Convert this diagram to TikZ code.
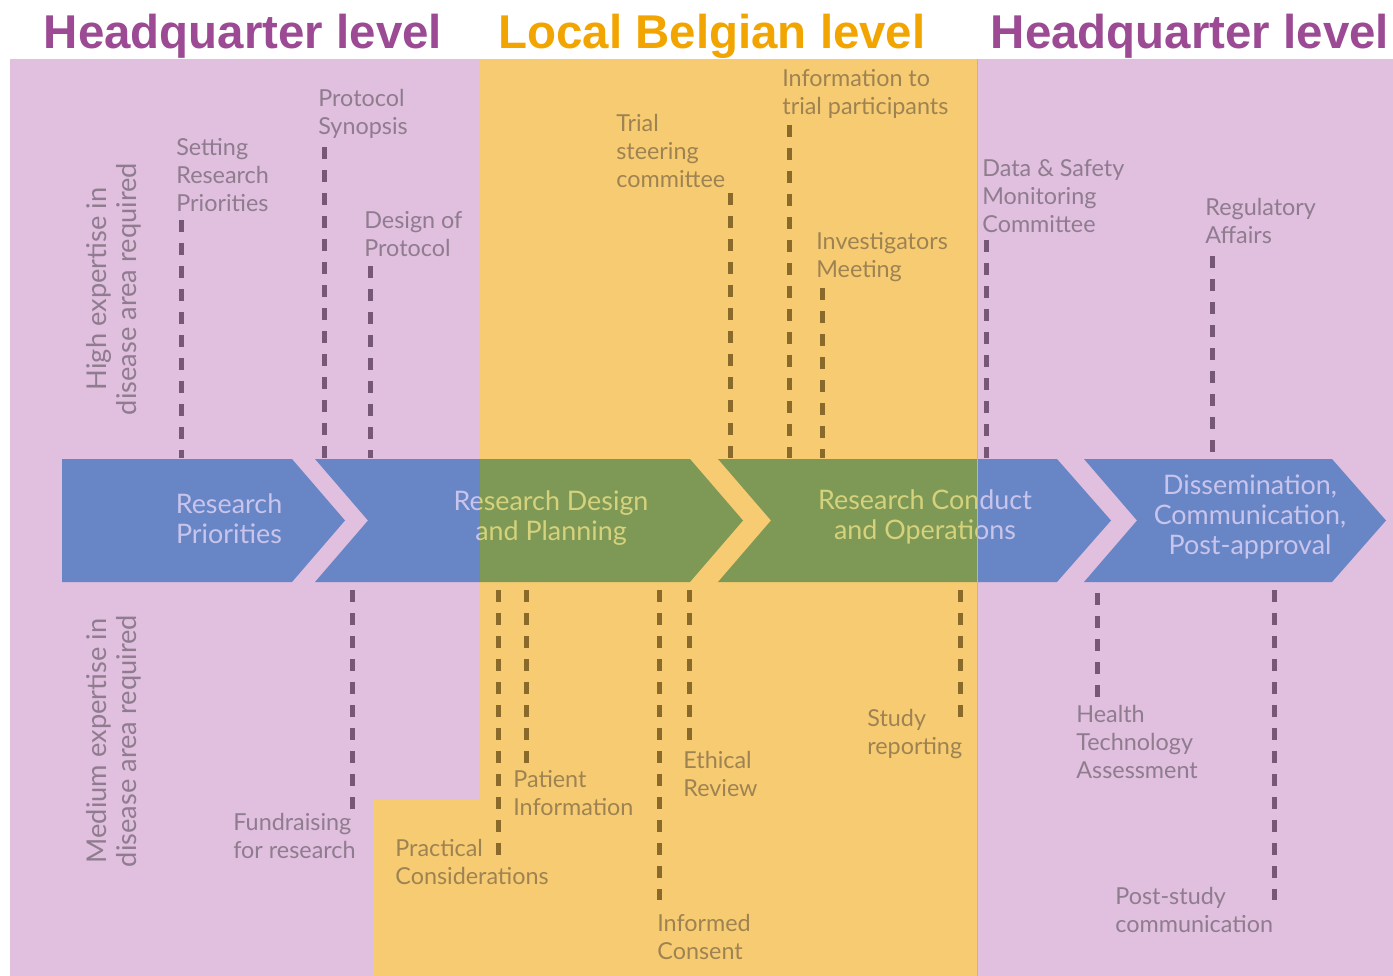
\documentclass[tikz,border=0pt]{standalone}
\usepackage{fontspec}
\setmainfont{Lato}
\newfontfamily\titlefont{Liberation Sans}
\definecolor{titlepurple}{HTML}{9B4A93}
\definecolor{titleorange}{HTML}{F2A500}
\definecolor{edgeorange}{HTML}{E8B050}
\tikzset{
  lbl/.style={font=\fontsize{13.3}{15.9}\selectfont, align=left, inner sep=0pt, anchor=north west, text=lblcol},
  arrtext/.style={font=\fontsize{15.3}{17}\selectfont, align=center, inner sep=0pt, text=arrtxtcol},
  sidetext/.style={font=\fontsize{15.5}{17}\selectfont, align=center, inner sep=0pt, text=lblcol, rotate=90},
  dl/.style={draw=dashcol, line width=0.1cm, dash pattern=on 0.24cm off 0.22cm},
  chev/.style={fill=arrowcol},
  ttl/.style={font=\titlefont\bfseries\fontsize{27}{30}\selectfont, inner sep=0pt, anchor=base}
}
\newcommand{\drawdiagram}{%
  \fill[bgcol] (10,59) rectangle (1393,976);
  % chevrons
  \fill[chev] (62,459) -- (292,459) -- (345,520.5) -- (292,582) -- (62,582) -- cycle;
  \fill[chev] (315,459) -- (690,459) -- (743,520.5) -- (690,582) -- (315,582) -- (368,520.5) -- cycle;
  \fill[chev] (718,459) -- (1057,459) -- (1111,520.5) -- (1057,582) -- (718,582) -- (771,520.5) -- cycle;
  \fill[chev] (1084,459) -- (1332,459) -- (1386,520.5) -- (1332,582) -- (1084,582) -- (1137,520.5) -- cycle;
  \node[arrtext] (a1) at (229,519) {Research\\Priorities};
  \node[arrtext] (a2) at (551,518) {Research Design\\and Planning};
  \node[arrtext] (a3) at (925,517) {Research Conduct\\and Operations};
  \node[arrtext] (a4) at (1250,517) {Dissemination,\\Communication,\\Post-approval};
  % side texts
  \node[sidetext] (hi) at (114,289) {High expertise in\\disease area required};
  \node[sidetext] (me) at (114,741) {Medium expertise in\\disease area required};
  % upper labels
  \node[lbl] (setting) at (176,138) {Setting\\Research\\Priorities};
  \node[lbl] (synopsis) at (318,89) {Protocol\\Synopsis};
  \node[lbl] (design) at (364,211) {Design of\\Protocol};
  \node[lbl] (trial) at (616,114) {Trial\\steering\\committee};
  \node[lbl] (info) at (782,69) {Information to\\trial participants};
  \node[lbl] (invest) at (816,232) {Investigators\\Meeting};
  \node[lbl] (dsmc) at (982,159) {Data \& Safety\\Monitoring\\Committee};
  \node[lbl] (reg) at (1205,198) {Regulatory\\Affairs};
  % lower labels
  \node[lbl] (fund) at (233,813) {Fundraising\\for research};
  \node[lbl] (practical) at (395,839) {Practical\\Considerations};
  \node[lbl] (patient) at (513,770) {Patient\\Information};
  \node[lbl] (informed) at (657,914) {Informed\\Consent};
  \node[lbl] (ethical) at (683,751) {Ethical\\Review};
  \node[lbl] (study) at (867,709) {Study\\reporting};
  \node[lbl] (hta) at (1076,705) {Health\\Technology\\Assessment};
  \node[lbl] (post) at (1115,887) {Post-study\\communication};
  % connector end points
  \coordinate (s1) at (181,220);  \coordinate (e1) at (181,458);
  \coordinate (s2) at (324,147);  \coordinate (e2) at (324,458);
  \coordinate (s3) at (370,266);  \coordinate (e3) at (370,458);
  \coordinate (s4) at (730,193);  \coordinate (e4) at (730,458);
  \coordinate (s5) at (789,125);  \coordinate (e5) at (789,458);
  \coordinate (s6) at (822,288);  \coordinate (e6) at (822,458);
  \coordinate (s7) at (986,240);  \coordinate (e7) at (986,458);
  \coordinate (s8) at (1212,256); \coordinate (e8) at (1212,458);
  \coordinate (s9) at (352,590);  \coordinate (e9) at (352,815);
  \coordinate (s10) at (498,590); \coordinate (e10) at (498,856);
  \coordinate (s11) at (526,590); \coordinate (e11) at (526,765);
  \coordinate (s12) at (659,590); \coordinate (e12) at (659,900);
  \coordinate (s13) at (689,590); \coordinate (e13) at (689,740);
  \coordinate (s14) at (960,590); \coordinate (e14) at (960,718);
  \coordinate (s15) at (1097,593); \coordinate (e15) at (1097,697);
  \coordinate (s16) at (1274,590); \coordinate (e16) at (1274,900);
  \foreach \i in {1,...,16} {\draw[dl] (s\i) -- (e\i);}
}
\begin{document}
\begin{tikzpicture}[x=0.02cm,y=-0.02cm]
  \useasboundingbox (0,0) rectangle (1393,976);
  \fill[white] (0,0) rectangle (1393,976);
  \node[ttl, text=titlepurple] (t1) at (243,49) {Headquarter level};
  \node[ttl, text=titleorange] (t2) at (712,49) {Local Belgian level};
  \node[ttl, text=titlepurple] (t3) at (1190,49) {Headquarter level};
  \begin{scope}
    \definecolor{bgcol}{HTML}{E0BFDF}
    \definecolor{arrowcol}{HTML}{6886C6}
    \definecolor{arrtxtcol}{HTML}{C9C4EC}
    \definecolor{lblcol}{HTML}{8F7C8E}
    \definecolor{dashcol}{HTML}{765876}
    \drawdiagram
  \end{scope}
  \begin{scope}
    \clip (480,59) rectangle (977,976) (373,800) rectangle (480,976);
    \definecolor{bgcol}{HTML}{F7CB72}
    \definecolor{arrowcol}{HTML}{7E9956}
    \definecolor{arrtxtcol}{HTML}{D6D27C}
    \definecolor{lblcol}{HTML}{9E8352}
    \definecolor{dashcol}{HTML}{8A6A2A}
    \drawdiagram
  \end{scope}
  \draw[edgeorange, line width=0.02cm] (977,59) -- (977,976);
\end{tikzpicture}
\end{document}
